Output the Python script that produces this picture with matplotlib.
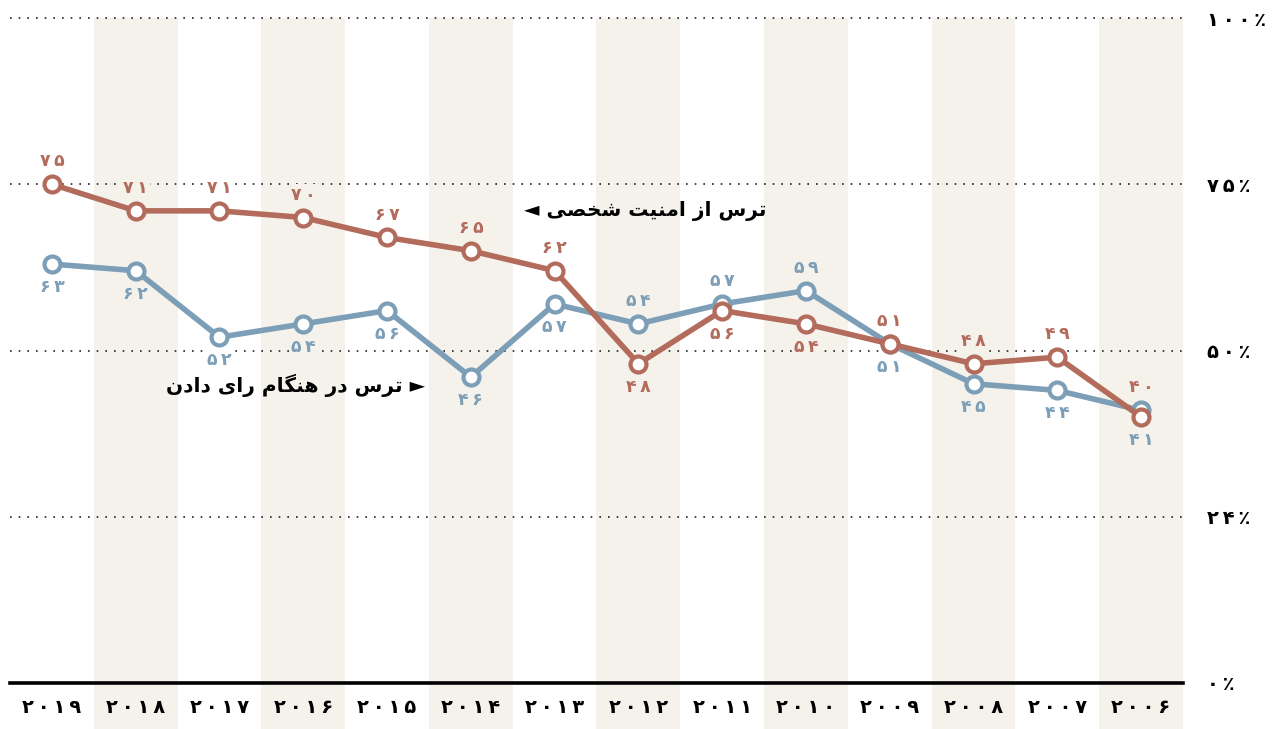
import matplotlib
matplotlib.use('Agg')
import matplotlib.pyplot as plt
from matplotlib.patches import Rectangle
from matplotlib import font_manager
from matplotlib.ft2font import FT2Font

# ---------------- data ----------------
years = [2019, 2018, 2017, 2016, 2015, 2014, 2013, 2012, 2011, 2010, 2009, 2008, 2007, 2006]
personal_safety = [75, 71, 71, 70, 67, 65, 62, 48, 56, 54, 51, 48, 49, 40]
voting_fear = [63, 62, 52, 54, 56, 46, 57, 54, 57, 59, 51, 45, 44, 41]
y_ticks = [0, 25, 50, 75, 100]
y_tick_labels = ['۰٪', '۲۴٪', '۵۰٪', '۷۵٪', '۱۰۰٪']
label_safety = 'ترس از امنیت شخصی ◄'
label_voting = '► ترس در هنگام رای دادن'

# label placement (style): a = above, b = below
safety_pos = ['a'] * 7 + ['b', 'b', 'b'] + ['a'] * 4
voting_pos = ['b'] * 7 + ['a', 'a', 'a'] + ['b'] * 4

RED = '#b36b5c'
BLUE = '#7c9eb7'
BEIGE = '#f5f2ec'

# ---------------- Arabic shaping ----------------
fp_bold = font_manager.FontProperties(family='DejaVu Sans', weight='bold')
cmap = FT2Font(font_manager.findfont(fp_bold)).get_charmap()

FORMS = {
    'ا': ('\uFE8D', '\uFE8E', None, None),
    'ت': ('\uFE95', '\uFE96', '\uFE97', '\uFE98'),
    'ر': ('\uFEAD', '\uFEAE', None, None),
    'ز': ('\uFEAF', '\uFEB0', None, None),
    'س': ('\uFEB1', '\uFEB2', '\uFEB3', '\uFEB4'),
    'ش': ('\uFEB5', '\uFEB6', '\uFEB7', '\uFEB8'),
    'ص': ('\uFEB9', '\uFEBA', '\uFEBB', '\uFEBC'),
    'خ': ('\uFEA5', '\uFEA6', '\uFEA7', '\uFEA8'),
    'د': ('\uFEA9', '\uFEAA', None, None),
    'م': ('\uFEE1', '\uFEE2', '\uFEE3', '\uFEE4'),
    'ن': ('\uFEE5', '\uFEE6', '\uFEE7', '\uFEE8'),
    'ه': ('\uFEE9', '\uFEEA', '\uFEEB', '\uFEEC'),
    'ی': ('\uFBFC', '\uFBFD', '\uFBFE', '\uFBFF'),
    'گ': ('\uFB92', '\uFB93', '\uFB94', '\uFB95'),
}
if ord('\uFBFC') not in cmap:
    FORMS['ی'] = ('\uFEEF', '\uFEF0', '\uFEF3', '\uFEF4')
if ord('\uFB95') not in cmap:
    FORMS['گ'] = ('\uFED9', '\uFEDA', '\uFEDB', '\uFEDC')


def shape(text):
    chars = list(text)
    n = len(chars)
    out = []

    def joins_next(c):
        return c in FORMS and FORMS[c][2] is not None

    for i, c in enumerate(chars):
        if c not in FORMS:
            out.append(c)
            continue
        pj = i > 0 and joins_next(chars[i - 1])
        nj = joins_next(c) and i < n - 1 and chars[i + 1] in FORMS
        iso, fin, ini, med = FORMS[c]
        if pj and nj:
            out.append(med)
        elif pj:
            out.append(fin)
        elif nj:
            out.append(ini)
        else:
            out.append(iso)
    return ''.join(reversed(out))


FA_DIGITS = str.maketrans('0123456789', '۰۱۲۳۴۵۶۷۸۹')
SP = '\u2009' if ord('\u2009') in cmap else ' '


def fa(n):
    return SP.join(str(n).translate(FA_DIGITS))


pct = '٪' if ord('٪') in cmap else '%'
y_tick_labels = [SP.join(t.replace('٪', pct)) for t in y_tick_labels]

plt.rcParams['font.family'] = ['DejaVu Sans']

# ---------------- figure ----------------
W, H = 1273, 729
fig = plt.figure(figsize=(W / 100, H / 100), dpi=100)
ax = fig.add_axes([10 / W, (H - 683) / H, (1183 - 10) / W, (683 - 18) / H])
x = list(range(len(years)))
ax.set_xlim(-0.5, len(years) - 0.5)
ax.set_ylim(0, 100)

# alternating column shading (extends below the axis)
for i in x:
    if i % 2 == 1:
        ax.add_patch(Rectangle((i - 0.5, -0.075), 1, 1.075, transform=ax.get_xaxis_transform(),
                               facecolor=BEIGE, edgecolor='none', clip_on=False, zorder=0))

# gridlines
for yv in y_ticks[1:]:
    ax.axhline(yv, color='#222222', lw=1.2, ls=(0, (1, 4.2)), zorder=1, clip_on=False)
ax.axhline(0, color='black', lw=2.6, zorder=2, clip_on=False)

# lines
ax.plot(x, voting_fear, color=BLUE, lw=4, marker='o', ms=11.5, mfc='white', mec=BLUE, mew=3,
        zorder=4, solid_joinstyle='round')
ax.plot(x, personal_safety, color=RED, lw=4, marker='o', ms=11.5, mfc='white', mec=RED, mew=3,
        zorder=5, solid_joinstyle='round')


def add_labels(vals, pos, color):
    for i, (v, p) in enumerate(zip(vals, pos)):
        off = 16.5 if i < len(vals) - 1 else 21.5
        dy = off if p == 'a' else -off
        bg = BEIGE if i % 2 == 1 else 'white'
        ax.annotate(fa(v), (i, v), xytext=(0, dy), textcoords='offset points',
                    ha='center', va='center', color=color, fontsize=12.5, fontweight='bold',
                    zorder=3, bbox=dict(boxstyle='square,pad=0.1', fc=bg, ec='none'))


add_labels(personal_safety, safety_pos, RED)
add_labels(voting_fear, voting_pos, BLUE)

# annotations
ax.text(8.53, 71, shape(label_safety), ha='right', va='center', fontsize=14.5,
        fontweight='bold', color='black', zorder=6)
ax.text(4.46, 44.8, shape(label_voting), ha='right', va='center', fontsize=14.5,
        fontweight='bold', color='black', zorder=6)

# axes styling
for s in ax.spines.values():
    s.set_visible(False)
ax.set_xticks(x)
ax.set_xticklabels([fa(y) for y in years], fontsize=14, fontweight='bold')
ax.tick_params(axis='x', length=0, pad=11)
ax.yaxis.tick_right()
ax.set_yticks(y_ticks)
ax.set_yticklabels(y_tick_labels, fontsize=14, fontweight='bold', ha='left')
ax.tick_params(axis='y', length=0, pad=17)
ax.set_facecolor('none')

fig.savefig('out.png', dpi=100)
